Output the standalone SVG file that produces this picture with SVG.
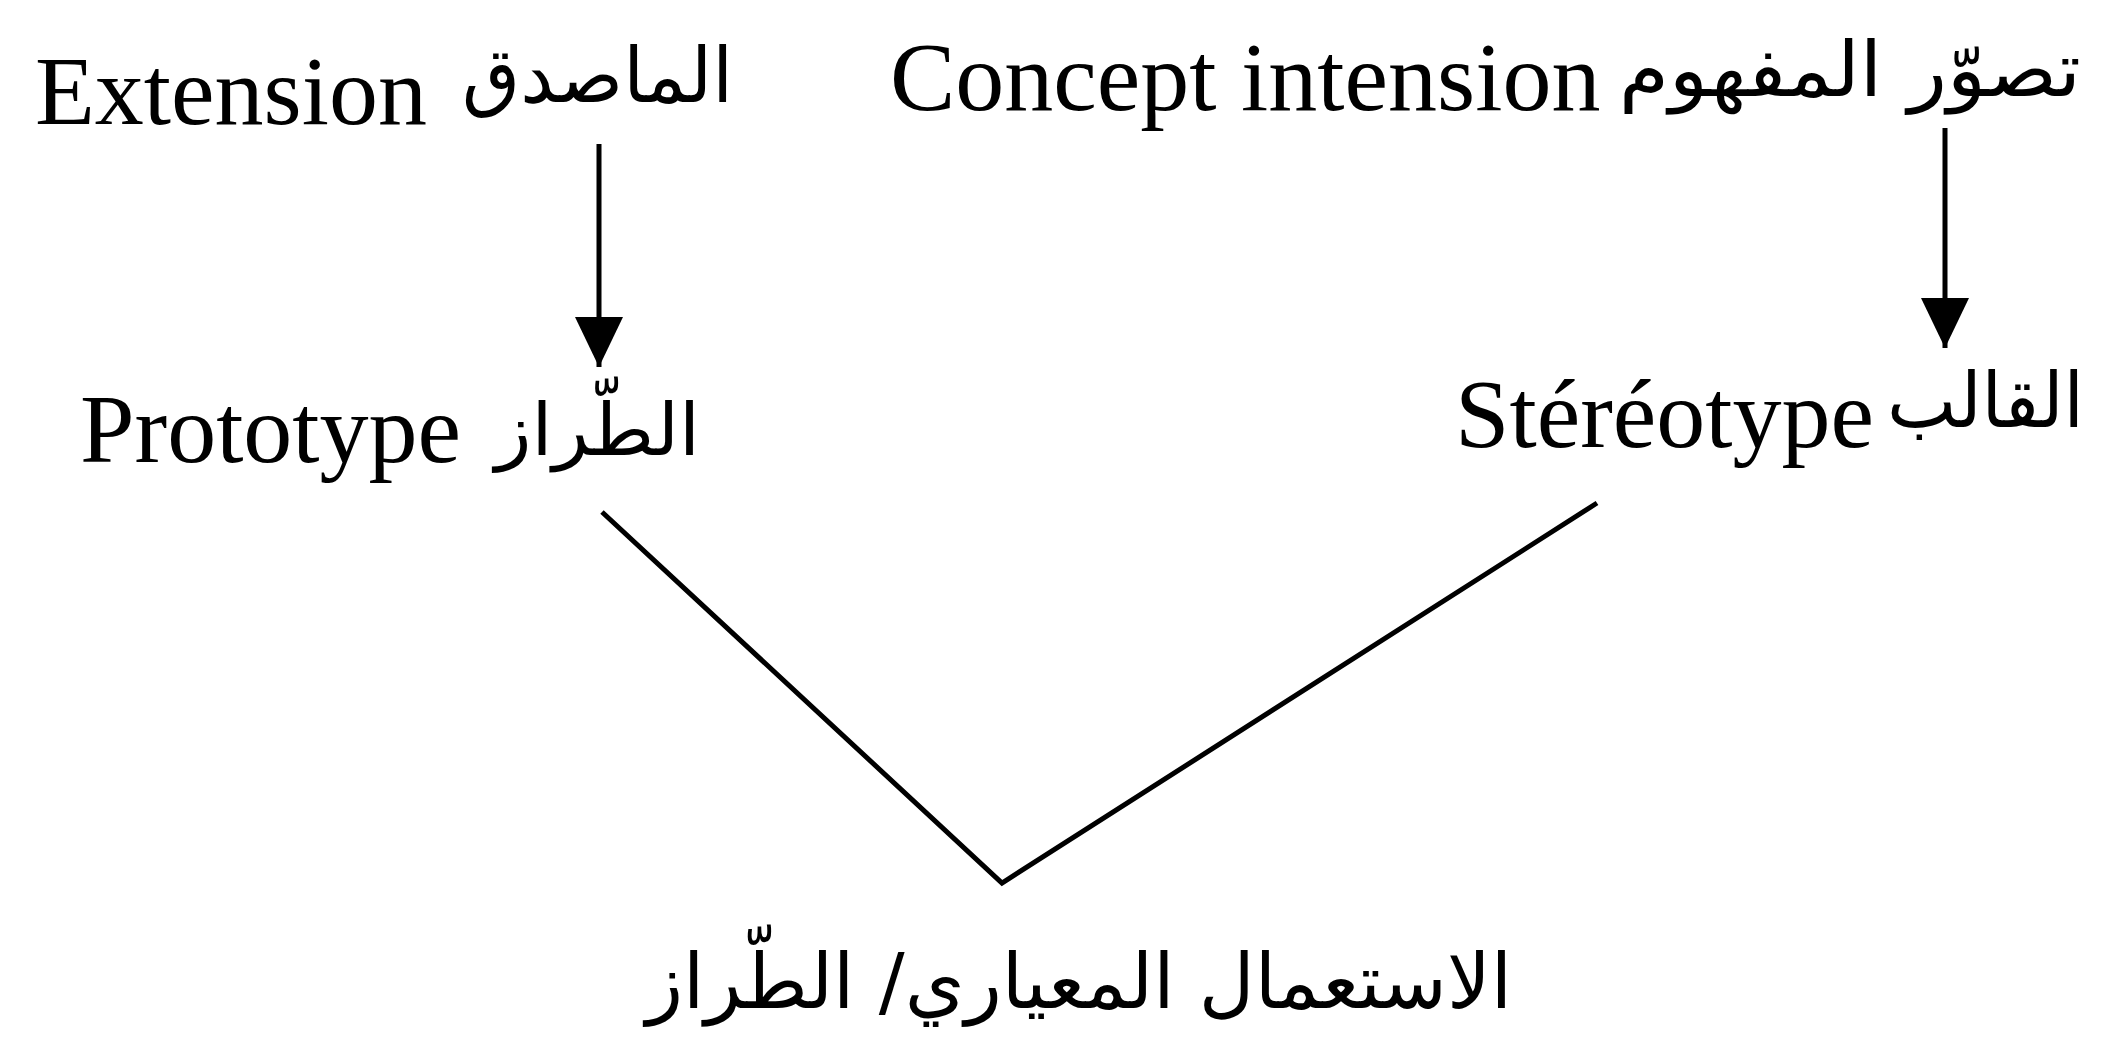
<svg xmlns="http://www.w3.org/2000/svg" width="2102" height="1049" viewBox="0 0 2102 1049">
<style>
.lat{font-family:"Liberation Serif","Times New Roman",serif;font-size:98px;fill:#000}
.ar{font-family:"DejaVu Sans",sans-serif;font-size:76px;fill:#000;direction:rtl;text-anchor:start}
.ln{stroke:#000;stroke-width:5;fill:none;stroke-linecap:butt}
</style>
<defs>
<marker id="ah" markerUnits="userSpaceOnUse" markerWidth="50" markerHeight="48" refX="50" refY="24" orient="auto" viewBox="0 0 50 48">
<path d="M0,0 L50,24 L0,48 Z" fill="#000"/>
</marker>
</defs>
<rect width="2102" height="1049" fill="#fff"/>
<g id="n-extension">
<text class="lat" x="35" y="124">Extension</text>
<text class="ar" x="733" y="102" direction="rtl" textLength="271" lengthAdjust="spacingAndGlyphs">الماصدق</text>
</g>
<g id="n-concept">
<text class="lat" x="890" y="110">Concept intension</text>
<text class="ar" x="2081" y="96" direction="rtl" textLength="462" lengthAdjust="spacingAndGlyphs">تصوّر المفهوم</text>
</g>
<g id="n-prototype">
<text class="lat" x="80" y="462">Prototype</text>
<text class="ar" x="700" y="455" direction="rtl" textLength="205" lengthAdjust="spacingAndGlyphs" style="font-size:72px">الطّراز</text>
</g>
<g id="n-stereotype">
<text class="lat" x="1455" y="447">Stéréotype</text>
<text class="ar" x="2084" y="427" direction="rtl" textLength="197" lengthAdjust="spacingAndGlyphs">القالب</text>
</g>
<g id="n-usage">
<text class="ar" x="1512" y="1008" direction="rtl" textLength="866" lengthAdjust="spacingAndGlyphs">الاستعمال المعياري/ الطّراز</text>
</g>
<g id="connectors">
<line class="ln" x1="599" y1="144" x2="599" y2="367" marker-end="url(#ah)"/>
<line class="ln" x1="1945" y1="128" x2="1945" y2="348" marker-end="url(#ah)"/>
<polyline class="ln" points="602,512 1002,883 1597,503" stroke-linejoin="miter"/>
</g>
</svg>
